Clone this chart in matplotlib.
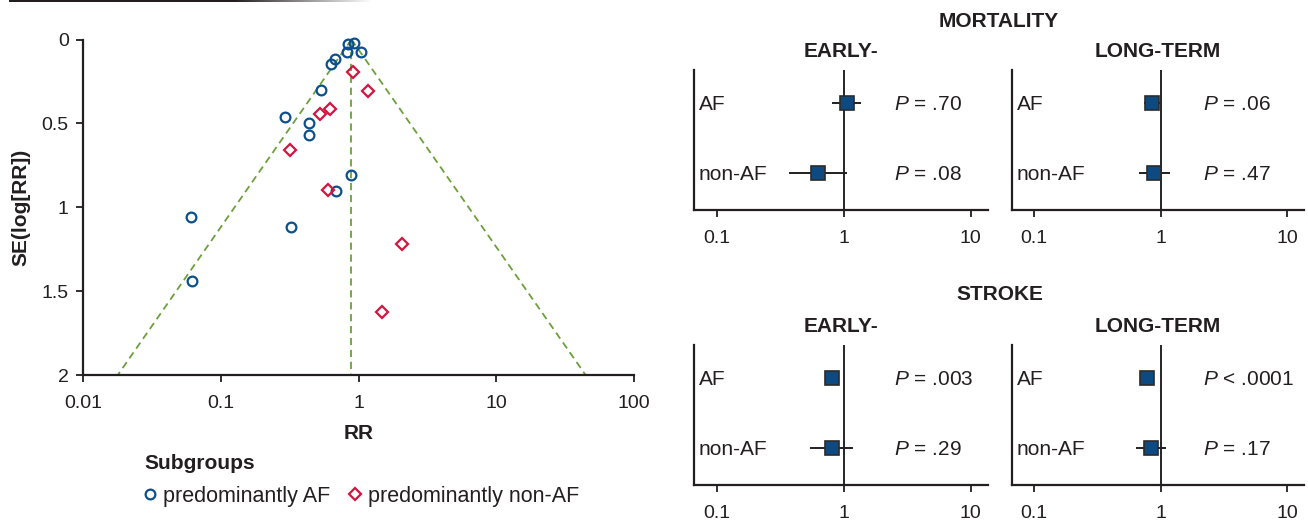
import matplotlib
matplotlib.use("Agg")
import matplotlib.pyplot as plt
import numpy as np
from matplotlib.ticker import NullLocator
from matplotlib.colors import LinearSegmentedColormap

# ---------------- data ----------------
# Funnel plot (RR vs SE(log RR))
af_rr = [0.925, 0.830, 0.826, 1.039, 0.676, 0.630, 0.530, 0.290, 0.435, 0.438,
         0.879, 0.688, 0.061, 0.321, 0.062]
af_se = [0.019, 0.029, 0.073, 0.073, 0.118, 0.148, 0.303, 0.460, 0.498, 0.571,
         0.808, 0.905, 1.060, 1.116, 1.441]
nonaf_rr = [0.904, 1.16, 0.619, 0.524, 0.317, 0.598, 2.07, 1.49]
nonaf_se = [0.196, 0.307, 0.416, 0.446, 0.659, 0.899, 1.219, 1.622]

funnel_se = [0.0, 2.0]
funnel_center = [0.887, 0.887]
funnel_lower = [0.887, 0.0178]
funnel_upper = [0.887, 44.5]

funnel_xticks = [0.01, 0.1, 1, 10, 100]
funnel_xticklabels = ["0.01", "0.1", "1", "10", "100"]
funnel_yticks = [0, 0.5, 1, 1.5, 2]
funnel_yticklabels = ["0", "0.5", "1", "1.5", "2"]

# Forest panels
rows = [1, 2]
row_labels = ["AF", "non-AF"]
forest_xticks = [0.1, 1, 10]
forest_xticklabels = ["0.1", "1", "10"]

mort_early_rr = [1.065, 0.627]
mort_early_lo = [0.815, 0.371]
mort_early_hi = [1.37, 1.062]
mort_early_p = ["= .70", "= .08"]

mort_long_rr = [0.856, 0.893]
mort_long_lo = [0.736, 0.676]
mort_long_hi = [0.990, 1.188]
mort_long_p = ["= .06", "= .47"]

stroke_early_rr = [0.811, 0.811]
stroke_early_lo = [0.73, 0.542]
stroke_early_hi = [0.90, 1.188]
stroke_early_p = ["= .003", "= .29"]

stroke_long_rr = [0.784, 0.842]
stroke_long_lo = [0.72, 0.634]
stroke_long_hi = [0.85, 1.10]
stroke_long_p = ["< .0001", "= .17"]

# ---------------- style ----------------
DARK = "#231f20"
BLUE = "#0b4f8c"
RED = "#d5153f"
GREEN = "#6ca03c"
NAVY = "#0d4a82"

plt.rcParams["font.family"] = ["Liberation Sans", "DejaVu Sans"]
plt.rcParams["mathtext.fontset"] = "custom"
plt.rcParams["mathtext.it"] = "Liberation Sans:italic"
plt.rcParams["mathtext.rm"] = "Liberation Sans"
plt.rcParams["text.color"] = DARK

W, H = 1308, 523
fig = plt.figure(figsize=(W / 100, H / 100), dpi=100)


def px_axes(l, t, r, b):
    return fig.add_axes([l / W, 1 - b / H, (r - l) / W, (b - t) / H])


def style_axes(ax, xpad, ypad):
    for s in ["top", "right"]:
        ax.spines[s].set_visible(False)
    for s in ["left", "bottom"]:
        ax.spines[s].set_linewidth(1.6)
        ax.spines[s].set_color(DARK)
    ax.tick_params(direction="out", length=5, width=1.3, colors=DARK,
                   labelsize=14, labelcolor=DARK)
    ax.tick_params(axis="x", pad=xpad)
    ax.tick_params(axis="y", pad=ypad)
    ax.xaxis.set_minor_locator(NullLocator())


# top decorative rule
gax = fig.add_axes([9 / W, 1 - 2.5 / H, 364 / W, 2.5 / H])
gax.axis("off")
cmap = LinearSegmentedColormap.from_list("rule", [(0, DARK), (0.62, DARK), (1, "#ffffff")])
gax.imshow(np.linspace(0, 1, 256)[None, :], aspect="auto", cmap=cmap)

# ---------------- funnel plot ----------------
ax = px_axes(83.3, 39.5, 634, 375)
ax.set_xscale("log")
ax.set_xlim(0.01, 100)
ax.set_ylim(2, 0)
style_axes(ax, 9.5, 5.5)
ax.set_xticks(funnel_xticks)
ax.set_xticklabels(funnel_xticklabels)
ax.set_yticks(funnel_yticks)
ax.set_yticklabels(funnel_yticklabels)

for xs in (funnel_lower, funnel_upper, funnel_center):
    ax.plot(xs, funnel_se, color=GREEN, lw=1.3, dashes=(4, 2.6), zorder=1)

h_af, = ax.plot(af_rr, af_se, "o", ls="none", mfc="none", mec=BLUE, ms=7.0,
                mew=1.6, zorder=3, label="predominantly AF", clip_on=False)
h_non, = ax.plot(nonaf_rr, nonaf_se, "D", ls="none", mfc="none", mec=RED, ms=6.6,
                 mew=1.6, zorder=3, label="predominantly non-AF", clip_on=False)

fig.text(21 / W, 1 - 207 / H, "SE(log[RR])", rotation=90, ha="center", va="center",
         fontsize=15, fontweight="bold")
fig.text(359 / W, 1 - 439 / H, "RR", ha="center", va="baseline",
         fontsize=15, fontweight="bold")

fig.legend(handles=[h_af, h_non], loc="upper left",
           bbox_to_anchor=(144 / W, 1 - 454 / H), bbox_transform=fig.transFigure,
           ncol=2, frameon=False, fontsize=15.5, title="Subgroups",
           title_fontproperties={"weight": "bold", "size": 15}, alignment="left",
           handlelength=0.6, handletextpad=0.3, columnspacing=0.85,
           borderpad=0, borderaxespad=0, labelspacing=0.6)

# ---------------- forest panels ----------------
panels = [
    ((694, 70, 988, 210), mort_early_rr, mort_early_lo, mort_early_hi, mort_early_p, 0.680),
    ((1011.7, 70, 1304, 210), mort_long_rr, mort_long_lo, mort_long_hi, mort_long_p, 0.653),
    ((694, 345, 988, 485), stroke_early_rr, stroke_early_lo, stroke_early_hi, stroke_early_p, 0.680),
    ((1011.7, 345, 1304, 485), stroke_long_rr, stroke_long_lo, stroke_long_hi, stroke_long_p, 0.653),
]

for box, rr, lo, hi, pl, pxf in panels:
    a = px_axes(*box)
    a.set_xscale("log")
    a.set_xlim(10 ** -1.178, 10 ** 1.135)
    a.set_ylim(2.535, 0.527)
    style_axes(a, 9.4, 4)
    a.set_xticks(forest_xticks)
    a.set_xticklabels(forest_xticklabels)
    a.set_yticks([])
    a.axvline(1, color="black", lw=1.2, zorder=1)
    a.hlines(rows, lo, hi, color=DARK, lw=1.4, zorder=2)
    a.plot(rr, rows, "s", ls="none", ms=9.8, mfc=NAVY, mec="#2b2b2b", mew=1.2, zorder=3)
    ytr = a.get_yaxis_transform()
    for r, lab, p in zip(rows, row_labels, pl):
        a.annotate(lab, xy=(0, r), xycoords=ytr, xytext=(3.6, 0),
                   textcoords="offset points", ha="left", va="center_baseline",
                   fontsize=15)
        a.text(pxf, r, "$P$ " + p, transform=ytr, ha="left", va="center_baseline",
               fontsize=15)

# titles
fig.text(998.5 / W, 1 - 27 / H, "MORTALITY", ha="center", va="baseline",
         fontsize=15, fontweight="bold")
fig.text(1000 / W, 1 - 300 / H, "STROKE", ha="center", va="baseline",
         fontsize=15, fontweight="bold")
for top in (70, 345):
    fig.text(841 / W, 1 - (top - 13) / H, "EARLY-", ha="center", va="baseline",
             fontsize=15, fontweight="bold")
    fig.text(1157.8 / W, 1 - (top - 13) / H, "LONG-TERM", ha="center", va="baseline",
             fontsize=15, fontweight="bold")

fig.savefig("out.png", dpi=100)
